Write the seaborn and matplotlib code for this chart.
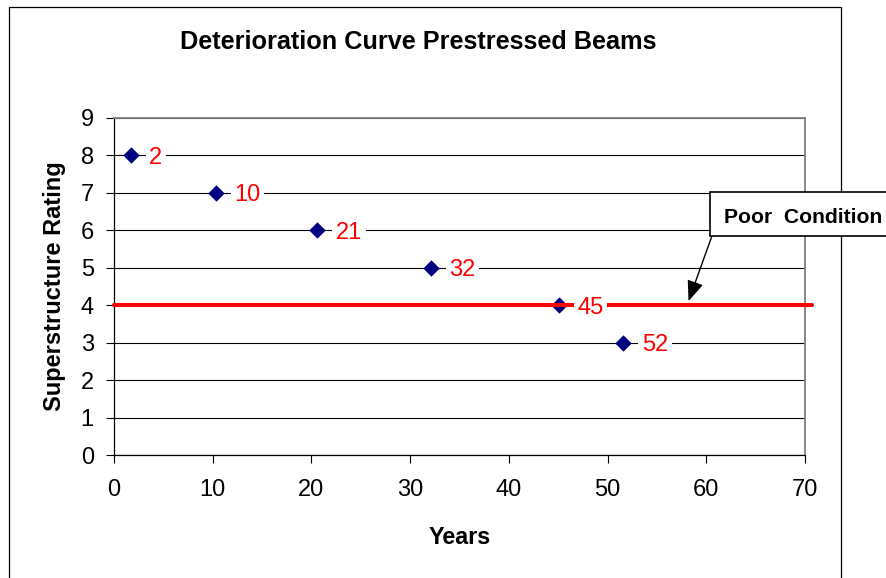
import matplotlib
matplotlib.use("Agg")
import matplotlib.pyplot as plt
import seaborn as sns
import pandas as pd
from matplotlib.patches import Rectangle

# ---- data ----
years = [1.7, 10.3, 20.6, 32.1, 45.1, 51.6]
ratings = [8, 7, 6, 5, 4, 3]
point_labels = ["2", "10", "21", "32", "45", "52"]
poor_x = [0, 70.7]
poor_y = [4, 4]
arrow_target = (58.2, 4.11)
x_ticks = [0, 10, 20, 30, 40, 50, 60, 70]
y_ticks = [0, 1, 2, 3, 4, 5, 6, 7, 8, 9]
title = "Deterioration Curve Prestressed Beams"
x_label = "Years"
y_label = "Superstructure Rating"
poor_text = "Poor  Condition"

sns.set_theme(style="white")
plt.rcParams['font.family'] = ['Liberation Sans', 'DejaVu Sans']

W, H = 887, 578
fig = plt.figure(figsize=(W / 100, H / 100), dpi=100)
ax = fig.add_axes([114 / W, 1 - 455 / H, (805 - 114) / W, (455 - 118) / H])

df = pd.DataFrame({"Years": years, "Rating": ratings})
sns.scatterplot(data=df, x="Years", y="Rating", marker="D", s=70,
                color="#000080", edgecolor="#000080", linewidth=0,
                zorder=3, ax=ax)

sns.lineplot(x=poor_x, y=poor_y, color="#FF0000", linewidth=2.9, zorder=4, ax=ax)
ax.lines[-1].set_clip_on(False)

for x, y, lab in zip(years, ratings, point_labels):
    ax.annotate(lab, (x, y), xytext=(13.3, 0), textcoords="offset points",
                ha="left", va="center_baseline", color="#FF0000", fontsize=17,
                bbox=dict(boxstyle="square,pad=0.15", fc="white", ec="none"),
                zorder=5)

ax.set_xlim(0, 70)
ax.set_ylim(0, 9)
ax.set_xticks(x_ticks)
ax.set_yticks(y_ticks)
ax.tick_params(axis="both", which="major", direction="out", length=5.5, width=0.8,
               color="black", labelsize=17, labelcolor="black", bottom=True, left=True)
ax.tick_params(axis="x", pad=12)
ax.tick_params(axis="y", pad=9)

ax.yaxis.grid(True, color="black", linewidth=0.8)
ax.xaxis.grid(False)
ax.set_axisbelow(True)

for side in ["left", "bottom"]:
    ax.spines[side].set_color("black")
    ax.spines[side].set_linewidth(0.9)
for side in ["top", "right"]:
    ax.spines[side].set_color("#808080")
    ax.spines[side].set_linewidth(1.3)

ax.set_xlabel(x_label, fontsize=16.8, fontweight="bold", color="black")
ax.set_ylabel(y_label, fontsize=17, fontweight="bold", color="black")
ax.xaxis.set_label_coords(0.5, -0.212)
ax.yaxis.set_label_coords(-0.069, 0.5)

fig.text(418 / W, 1 - 49.3 / H, title, ha="center", va="baseline",
         fontsize=18.2, fontweight="bold", color="black")

# figure frame
fig.patches.append(Rectangle((9 / W, -0.05), (841 - 9) / W, (H - 7) / H + 0.05,
                             transform=fig.transFigure, fill=False,
                             edgecolor="black", linewidth=0.9, zorder=0.5))

# callout box
fig.patches.append(Rectangle((710 / W, 1 - 236 / H), 200 / W, 44 / H,
                             transform=fig.transFigure, facecolor="white",
                             edgecolor="black", linewidth=1.2, zorder=5,
                             clip_on=False))
fig.text(724 / W, 1 - 222.7 / H, poor_text, ha="left", va="baseline",
         fontsize=15.2, fontweight="bold", color="black", zorder=6)

ax.annotate("", xy=arrow_target, xycoords="data",
            xytext=(711.7, H - 236.7), textcoords="figure pixels",
            arrowprops=dict(arrowstyle="-|>,head_length=1.25,head_width=0.5",
                            mutation_scale=10, color="black", lw=1.0,
                            shrinkA=0, shrinkB=0),
            zorder=6, annotation_clip=False)

fig.savefig("out.png", dpi=100, facecolor="white")
